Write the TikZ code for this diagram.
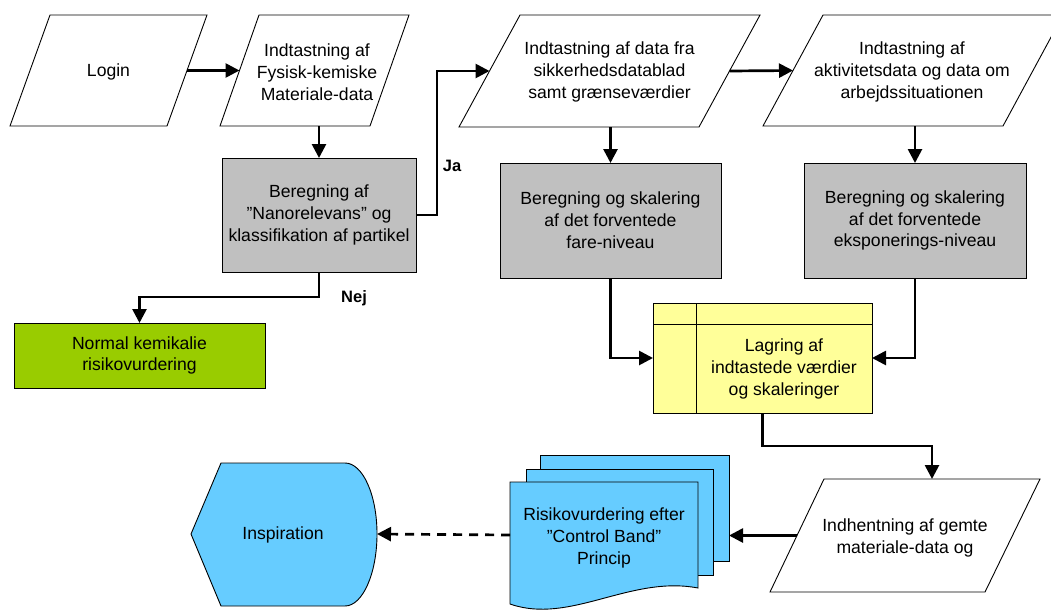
\documentclass[tikz,border=0pt]{standalone}
\usepackage{fontspec}
\setmainfont{Liberation Sans}
\usetikzlibrary{arrows.meta}
\definecolor{boxgray}{HTML}{C0C0C0}
\definecolor{boxgreen}{HTML}{99CC00}
\definecolor{boxyellow}{HTML}{FFFF99}
\definecolor{boxblue}{HTML}{66CCFF}
\newcommand\dfont{\fontsize{17.6}{21.8}\selectfont}
\tikzset{
  base/.style={draw=black, line width=0.9pt, align=center, font=\dfont, inner sep=0pt, outer sep=0pt},
  paraline/.style={draw=black, line width=0.9pt, fill=white},
  gbox/.style={base, rectangle, fill=boxgray},
  txt/.style={align=center, font=\dfont, inner sep=0pt},
  lbl/.style={font=\fontsize{16.5}{20}\selectfont\bfseries, inner sep=0pt},
  conn/.style={line width=2.7pt, -{Triangle[length=14pt,width=14pt]}},
  dconn/.style={conn, dash pattern=on 9pt off 7pt},
  page/.style={draw=black, line width=0.9pt, fill=boxblue},
}
\begin{document}
\begin{tikzpicture}[x=1pt,y=-1pt]
\useasboundingbox (0,0) rectangle (1051,610);
\clip (0,0) rectangle (1051,610);
\fill[white] (0,0) rectangle (1051,610);

% parallelograms (data shapes)
\draw[paraline] (50,15) -- (207,15) -- (167,126) -- (10,126) -- cycle;
\node[txt] (p1) at (108.5,72) {Login};
\coordinate (p1R) at (187,70.5);

\draw[paraline] (259,15) -- (409,15) -- (370,126) -- (220,126) -- cycle;
\node[txt] (p2) at (317,72) {Indtastning af\\Fysisk-kemiske\\Materiale-data};
\coordinate (p2L) at (239.5,70.5);
\coordinate (p2B) at (295,126);

\draw[paraline] (520,15) -- (760,15) -- (699,127) -- (459,127) -- cycle;
\node[txt] (p3) at (609.5,72) {Indtastning af data fra\\sikkerhedsdatablad\\ samt grænseværdier};
\coordinate (p3L) at (489.5,71);
\coordinate (p3R) at (729.5,71);
\coordinate (p3B) at (579,127);

\draw[paraline] (823,15) -- (1063,15) -- (1003,126) -- (763,126) -- cycle;
\node[txt] (p4) at (912,72) {Indtastning af\\aktivitetsdata og data om\\ arbejdssituationen};
\coordinate (p4L) at (793,70.5);
\coordinate (p4B) at (883,126);

\draw[paraline] (824,479) -- (1040,479) -- (985,592) -- (770,592) -- cycle;
\node[txt] (p5) at (905,538) {Indhentning af gemte\\materiale-data og};
\coordinate (p5L) at (797,535.5);
\coordinate (p5T) at (932,479);

% gray boxes
\node[gbox, minimum width=194pt, minimum height=114pt] (g1) at (319,215) {Beregning af\\”Nanorelevans” og\\klassifikation af partikel};
\node[gbox, minimum width=221pt, minimum height=115pt] (g2) at (610.5,220.5) {Beregning og skalering\\af det forventede\\ fare-niveau};
\node[gbox, minimum width=222pt, minimum height=115pt] (g3) at (915,220.5) {Beregning og skalering\\af det forventede\\ eksponerings-niveau};

% green box
\node[base, rectangle, fill=boxgreen, minimum width=251pt, minimum height=65pt] (green) at (139.5,355.5) {Normal kemikalie\\risikovurdering};

% storage box
\node[base, rectangle, fill=boxyellow, minimum width=219pt, minimum height=110pt] (store) at (762.5,358) {};
\coordinate (sh) at (0,324);
\coordinate (sv) at (696,0);
\draw[line width=0.9pt] (store.west |- sh) -- (store.east |- sh);
\draw[line width=0.9pt] (sv |- store.north) -- (sv |- store.south);
\node[txt] (storetxt) at (784,369) {Lagring af\\indtastede værdier\\ og skaleringer};

% multi-document
\draw[page] (540,455) rectangle (729,561);
\draw[page] (526,469) rectangle (713,575);
\draw[page] (510,482) -- (698,482) -- (698,588) .. controls (630,575) and (570,625) .. (510,604) -- cycle;
\node[txt] (doc) at (604,538) {Risikovurdering efter\\”Control Band”\\Princip};
\coordinate (docL) at (510,535);
\coordinate (docR) at (729,535.5);

% display shape
\draw[page] (191,534) -- (221,463) -- (345,463) .. controls (362.7,463) and (377,494.8) .. (377,534)
   .. controls (377,573.2) and (362.7,606) .. (345,606) -- (221,606) -- cycle;
\node[txt] (insp) at (283,535) {Inspiration};
\coordinate (inspR) at (377,534);

% labels
\node[lbl] (ja) at (452,166) {Ja};
\node[lbl] (nej) at (354,298) {Nej};

% connectors
\draw[conn] (p1R) -- (p2L);
\draw[conn] (g1.north |- p2B) -- (g1.north);
\draw[conn] (g1.east) -- ++(21,0) |- (p3L);
\draw[conn] (p3R) -- (p4L);
\draw[conn] (g2.north |- p3B) -- (g2.north);
\draw[conn] (g3.north |- p4B) -- (g3.north);
\draw[conn] (g1.south) -- ++(0,25) -| (green.north);
\draw[conn] (g2.south) |- (store.west);
\draw[conn] (g3.south) |- (store.east);
\draw[conn] (store.south) -- ++(0,33) -| (p5T);
\draw[conn] (p5L) -- (docR);
\draw[dconn] (docL) -- (inspR);
\end{tikzpicture}
\end{document}
